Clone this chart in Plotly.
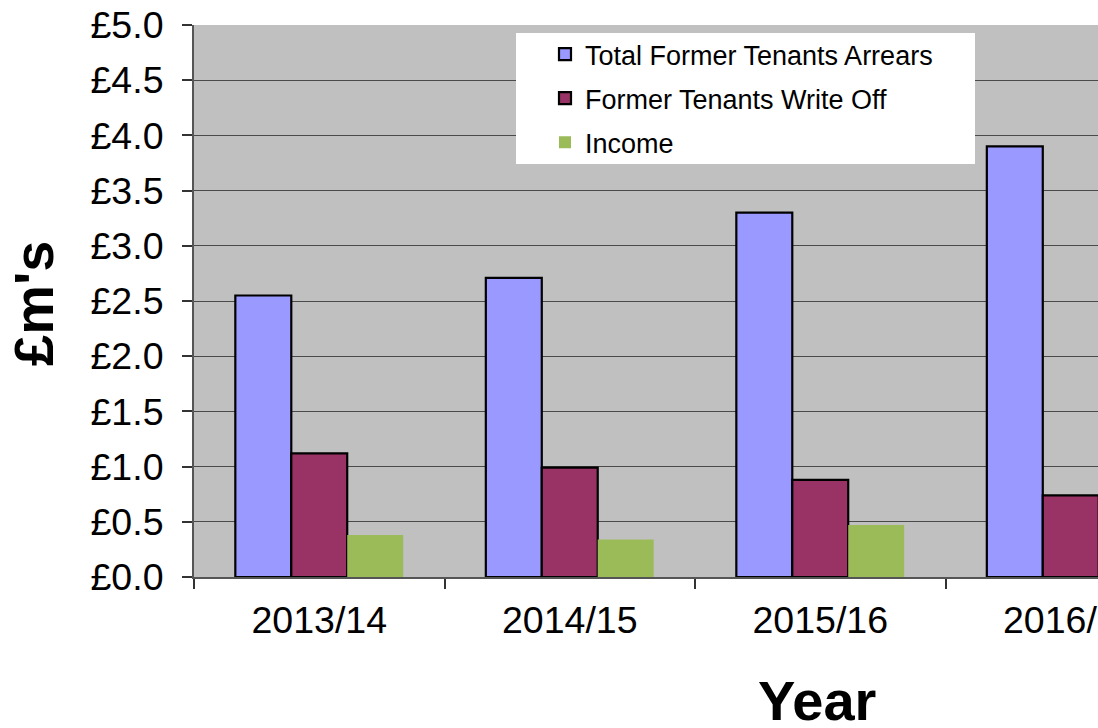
import plotly.graph_objects as go

years = ["2013/14", "2014/15", "2015/16", "2016/17"]
total_arrears = [2.55, 2.71, 3.30, 3.90]
write_off = [1.12, 0.99, 0.88, 0.74]
income = [0.38, 0.34, 0.47, None]

series_names = ["Total Former Tenants Arrears", "Former Tenants Write Off", "Income"]
y_ticks = [0, 0.5, 1.0, 1.5, 2.0, 2.5, 3.0, 3.5, 4.0, 4.5, 5.0]
y_ticktext = ["£%.1f" % v for v in y_ticks]

W, H = 1098, 728
L, R, T, B = 194, 0, 25, 151
pw, ph = W - L - R, H - T - B
cat_w = 250.5

def px_x(x):
    return (x - L) / pw

def px_y(y):
    return (H - B - y) / ph

fig = go.Figure()
fig.add_trace(go.Bar(x=years, y=total_arrears, name=series_names[0], legendgroup="a",
                     marker=dict(color="#9999FF", line=dict(color="black", width=2.2))))
fig.add_trace(go.Bar(x=years, y=write_off, name=series_names[1], legendgroup="b",
                     marker=dict(color="#993366", line=dict(color="black", width=2.2))))
fig.add_trace(go.Bar(x=years, y=income, name=series_names[2], legendgroup="c",
                     marker=dict(color="#9BBB59", line=dict(width=0))))

fig.update_layout(
    width=W, height=H,
    margin=dict(l=L, r=R, t=T, b=B, pad=0, autoexpand=False),
    paper_bgcolor="white",
    plot_bgcolor="#C0C0C0",
    font=dict(family="Liberation Sans, Arial, sans-serif", color="black"),
    barmode="group",
    bargap=0.33,
    bargroupgap=0,
    showlegend=True,
    legend=dict(
        x=px_x(545), y=px_y(30), xanchor="left", yanchor="top",
        bgcolor="rgba(0,0,0,0)", borderwidth=0,
        font=dict(size=27, color="black"),
        tracegroupgap=6,
        traceorder="grouped",
    ),
    shapes=[dict(type="rect", xref="paper", yref="paper",
                 x0=px_x(516), x1=px_x(975), y0=px_y(164), y1=px_y(33),
                 fillcolor="white", line=dict(width=0), layer="above")],
    annotations=[
        dict(text="<b>£m's</b>", xref="paper", yref="paper", x=px_x(33), y=px_y(304),
             xanchor="center", yanchor="middle", textangle=-90, showarrow=False,
             font=dict(size=56, color="black")),
        dict(text="<b>Year</b>", xref="paper", yref="paper", x=px_x(817), y=px_y(700),
             xanchor="center", yanchor="middle", showarrow=False,
             font=dict(size=56, color="black")),
    ],
)

fig.update_xaxes(
    type="category",
    range=[-0.5, -0.5 + pw / cat_w],
    automargin=False,
    tickson="boundaries",
    ticks="outside", ticklen=10, tickwidth=1.5, tickcolor="#333333",
    showline=True, linecolor="#555555", linewidth=1.5,
    showgrid=False,
    tickfont=dict(size=37.5, color="black"),
    ticklabelstandoff=9,
)
fig.update_yaxes(
    range=[0, 5],
    automargin=False,
    tickmode="array", tickvals=y_ticks, ticktext=y_ticktext,
    ticks="outside", ticklen=10, tickwidth=1.5, tickcolor="#333333",
    showline=True, linecolor="#555555", linewidth=2,
    showgrid=True, gridcolor="#4a4a4a", gridwidth=1,
    zeroline=False,
    tickfont=dict(size=37.5, color="black"),
    ticklabelstandoff=11,
)

fig.write_html(
    "out.html",
    config={"displayModeBar": False},
    post_script="document.documentElement.style.overflow='hidden';"
                "document.body.style.margin='0';document.body.style.overflow='hidden';",
)
